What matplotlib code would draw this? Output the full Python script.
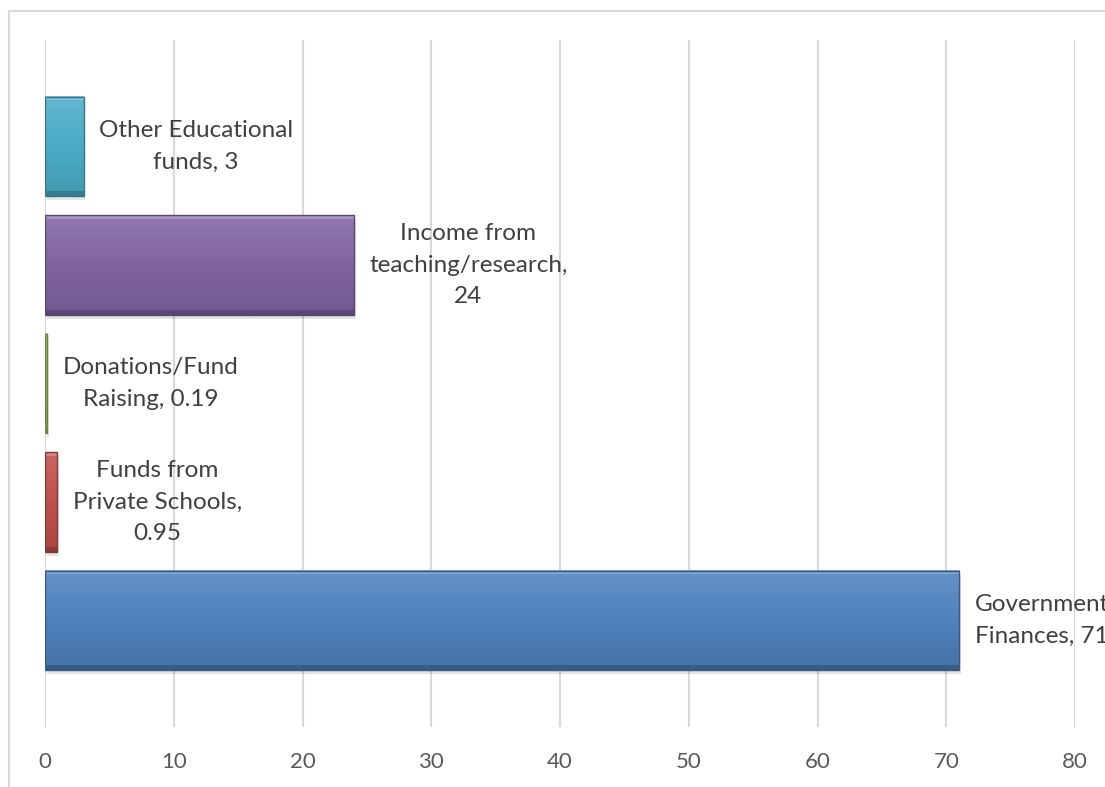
import numpy as np
import matplotlib.pyplot as plt
from matplotlib.patches import Rectangle
from matplotlib.colors import to_rgb

# funding sources, bottom to top as drawn
sources = ["Government\nFinances, 71", "Funds from\nPrivate Schools,\n0.95",
           "Donations/Fund\nRaising, 0.19", "Income from\nteaching/research,\n24",
           "Other Educational\nfunds, 3"]
values = [71, 0.95, 0.19, 24, 3]
colors = ["#4F81BD", "#C0504D", "#9BBB59", "#8064A2", "#4BACC6"]
xticks = [0, 10, 20, 30, 40, 50, 60, 70, 80]

plt.rcParams['font.family'] = ['Lato', 'DejaVu Sans']

fig = plt.figure(figsize=(11.05, 7.87), dpi=100)
# light frame around the chart (runs off the right and bottom edges)
fig.patches.append(Rectangle((9 / 1105, -0.05), 1.2, 1 - 11 / 787 + 0.05,
                             transform=fig.transFigure, fill=False,
                             edgecolor="#D9D9D9", linewidth=1.5))

ax = fig.add_axes([45 / 1105, 1 - 727 / 787, 1030 / 1105, 687 / 787])
y = np.arange(len(values))

bars = ax.barh(y, values, height=0.84, color=colors, zorder=3)


def shade(c, f):
    r = np.array(to_rgb(c))
    if f < 1:
        return np.clip(r * f, 0, 1)
    return np.clip(r + (1 - r) * (f - 1), 0, 1)


# soft vertical gradient, darker rim and a drop shadow for each bar
for b, c in zip(bars, colors):
    x0, y0, w, h = b.get_x(), b.get_y(), b.get_width(), b.get_height()
    rows = []
    for g in np.linspace(0, 1, 100):
        if g < 0.04:
            rows.append(shade(c, 1.3))
        elif g < 0.5:
            rows.append(shade(c, 1.12) + (shade(c, 1.0) - shade(c, 1.12)) * (g - 0.04) / 0.46)
        elif g < 0.95:
            rows.append(shade(c, 1.0) + (shade(c, 0.9) - shade(c, 1.0)) * (g - 0.5) / 0.45)
        else:
            rows.append(shade(c, 0.72))
    img = np.array(rows)[:, None, :]
    ax.imshow(img, extent=(x0, x0 + w, y0, y0 + h), origin='upper',
              aspect='auto', zorder=4, interpolation='bilinear')
    ax.add_patch(Rectangle((x0, y0), w, h, fill=False, edgecolor=shade(c, 0.7),
                           linewidth=1.0, zorder=5))
    ax.add_patch(Rectangle((x0 + 0.12, y0 - 0.035), w, h, facecolor="#000000",
                           alpha=0.10, linewidth=0, zorder=2))
    b.set_visible(False)

for yi, v, lab in zip(y, values, sources):
    ax.annotate(lab, xy=(v, yi), xytext=(11, 0), textcoords='offset points',
                ha='left', va='center', multialignment='center',
                fontsize=17.5, color="#404040", linespacing=1.62,
                annotation_clip=False, zorder=6)

ax.set_xlim(0, 80)
ax.set_ylim(-0.9, 4.9)
ax.set_xticks(xticks)
ax.set_yticks([])
ax.grid(axis='x', color="#D9D9D9", linewidth=1.5, zorder=0)
for s in ax.spines.values():
    s.set_visible(False)
ax.tick_params(axis='x', length=0, labelsize=16, labelcolor="#595959", pad=18)

fig.savefig("out.png", dpi=100)
